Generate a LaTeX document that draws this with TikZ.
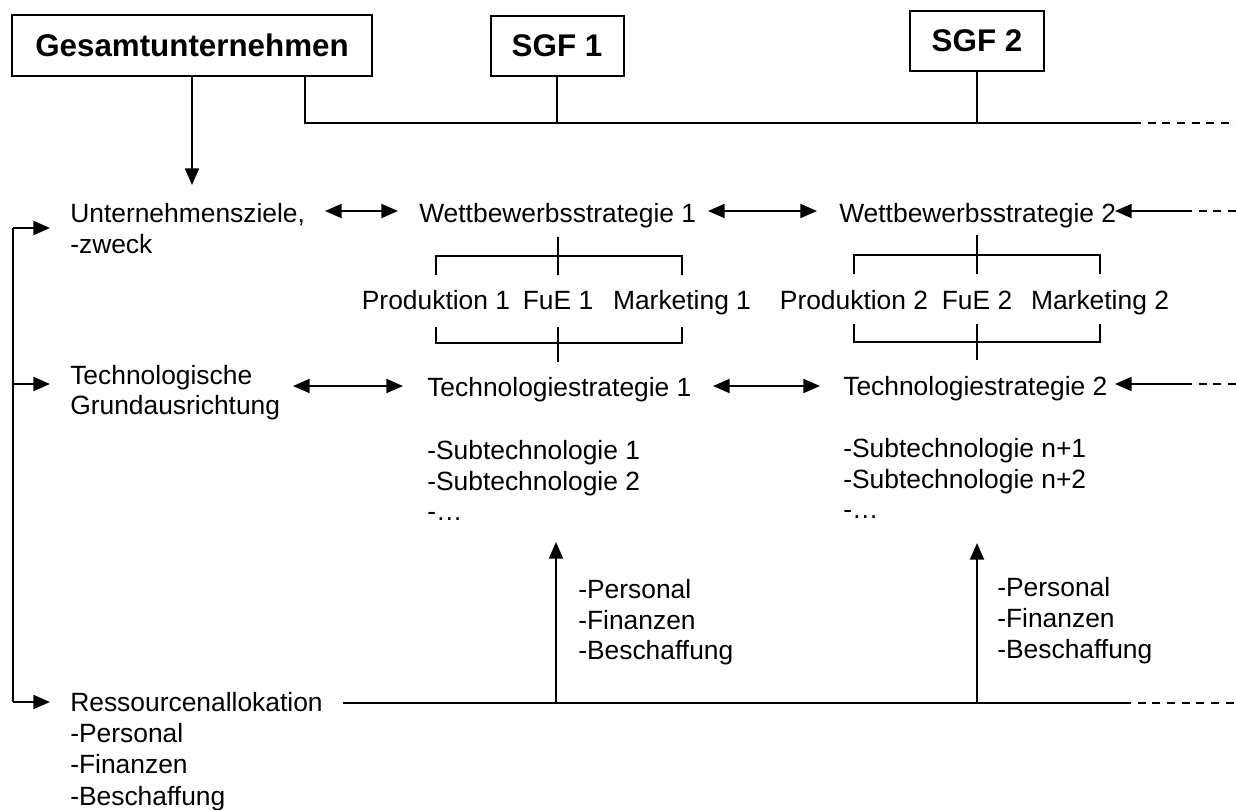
\documentclass[tikz,border=0pt]{standalone}
\usepackage{fontspec}
\setmainfont{Liberation Sans}
\usetikzlibrary{arrows.meta,calc}
\newcommand{\normtxt}{\fontsize{19.8}{23}\selectfont}
\newcommand{\boldtxt}{\fontsize{23.5}{28}\selectfont\bfseries}
\tikzset{
  txt/.style={font=\normtxt, inner sep=0pt, anchor=base west},
  ctxt/.style={font=\normtxt, inner sep=0pt, anchor=base},
  boxnode/.style={draw, line width=1.5pt, font=\boldtxt, inner sep=0pt},
  ln/.style={line width=1.5pt},
  tip/.tip={Triangle[length=12.5pt,width=10.5pt]},
  arr/.style={ln, -tip},
  darr/.style={ln, tip-tip},
  dsh/.style={line width=1.5pt, dash pattern=on 6pt off 5pt}
}
\begin{document}
\begin{tikzpicture}[x=0.75pt,y=-0.75pt]
\useasboundingbox (0,0) rectangle (1236,810);

% header boxes
\node[boxnode, minimum width=360*0.75pt, minimum height=61*0.75pt] (ges) at (192,45.5) {Gesamtunternehmen};
\node[boxnode, minimum width=133*0.75pt, minimum height=60*0.75pt] (sgf1) at (557,46) {SGF 1};
\node[boxnode, minimum width=134*0.75pt, minimum height=60*0.75pt] (sgf2) at (977,41) {SGF 2};

% top connection line
\coordinate (gr) at (305,76);
\coordinate (tA) at (305,123);
\coordinate (tB) at (1133,123);
\coordinate (tC) at (1236,123);
\draw[line width=2pt] (gr) -- (tA) -- (sgf1.south |- tA);
\draw[ln] (sgf1.south |- tA) -- (tB);
\draw[ln] (sgf1.south) -- (sgf1.south |- tA);
\draw[ln] (sgf2.south) -- (sgf2.south |- tA);
\draw[dsh] (tB) -- (tC);

% arrow from the company box down to the goals
\coordinate (gtip) at (192,185);
\draw[arr] (ges.south) -- (gtip);

% row 1: goals and competitive strategies
\node[txt] (uz1) at (70,222) {Unternehmensziele,};
\node[txt] (uz2) at (70,253) {-zweck};
\node[txt] (ws1) at (419,222) {Wettbewerbsstrategie 1};
\node[txt] (ws2) at (839,222) {Wettbewerbsstrategie 2};
\coordinate (a1l) at (325,211); \coordinate (a1r) at (398,211);
\coordinate (a2l) at (708,211); \coordinate (a2r) at (817,211);
\coordinate (a3s) at (1187,211); \coordinate (a3t) at (1115,211); \coordinate (a3e) at (1236,211);
\draw[darr] (a1l) -- (a1r);
\draw[darr] (a2l) -- (a2r);
\draw[arr] (a3s) -- (a3t);
\draw[dsh] (a3e) -- (a3s);

% functional areas
\node[ctxt] (p1) at (436,309) {Produktion 1};
\node[ctxt] (f1) at (558,309) {FuE 1};
\node[ctxt] (m1) at (682,309) {Marketing 1};
\node[ctxt] (p2) at (854,309) {Produktion 2};
\node[ctxt] (f2) at (977,309) {FuE 2};
\node[ctxt] (m2) at (1100,309) {Marketing 2};

% brackets around functional areas
\draw[ln] (558,237) -- (558,256);
\draw[ln] (436,275) -- (436,256) -- (682,256) -- (682,275);
\draw[ln] (558,256) -- (558,275);
\draw[ln] (436,327) -- (436,343) -- (682,343) -- (682,327);
\draw[ln] (558,327) -- (558,362);

\draw[ln] (977,235) -- (977,255);
\draw[ln] (854,274) -- (854,255) -- (1100,255) -- (1100,274);
\draw[ln] (977,255) -- (977,274);
\draw[ln] (854,324) -- (854,342) -- (1100,342) -- (1100,324);
\draw[ln] (977,324) -- (977,360);

% row 2: technology
\node[txt] (tg1) at (70,384) {Technologische};
\node[txt] (tg2) at (70,414) {Grundausrichtung};
\node[txt] (ts1) at (427,396) {Technologiestrategie 1};
\node[txt] (ts2) at (843,395) {Technologiestrategie 2};
\coordinate (b1l) at (293,386); \coordinate (b1r) at (403,386);
\coordinate (b2l) at (713,386); \coordinate (b2r) at (820,386);
\coordinate (b3s) at (1187,384); \coordinate (b3t) at (1115,384); \coordinate (b3e) at (1236,384);
\draw[darr] (b1l) -- (b1r);
\draw[darr] (b2l) -- (b2r);
\draw[arr] (b3s) -- (b3t);
\draw[dsh] (b3e) -- (b3s);

% sub-technologies
\node[txt] (s11) at (427,459) {-Subtechnologie 1};
\node[txt] (s12) at (427,490) {-Subtechnologie 2};
\node[txt] (s13) at (427,520) {-…};
\node[txt] (s21) at (843,457) {-Subtechnologie n+1};
\node[txt] (s22) at (843,488) {-Subtechnologie n+2};
\node[txt] (s23) at (843,518) {-…};

% resource flows
\coordinate (rb) at (343,703);
\coordinate (rs) at (1123,703);
\coordinate (re) at (1236,703);
\coordinate (v1b) at (556,703); \coordinate (v1t) at (556,542);
\coordinate (v2b) at (977,703); \coordinate (v2t) at (977,543);
\draw[ln] (rb) -- (rs);
\draw[dsh] (rs) -- (re);
\draw[arr] (v1b) -- (v1t);
\draw[arr] (v2b) -- (v2t);
\node[txt] (rp1) at (578,598) {-Personal};
\node[txt] (rf1) at (578,629) {-Finanzen};
\node[txt] (rc1) at (578,659) {-Beschaffung};
\node[txt] (rp2) at (997,596) {-Personal};
\node[txt] (rf2) at (997,627) {-Finanzen};
\node[txt] (rc2) at (997,658) {-Beschaffung};

% resource allocation
\node[txt] (ra) at (70,711) {Ressourcenallokation};
\node[txt] (ra1) at (70,742) {-Personal};
\node[txt] (ra2) at (70,773) {-Finanzen};
\node[txt] (ra3) at (70,805) {-Beschaffung};

% left feedback line
\coordinate (L1) at (13,228); \coordinate (L1t) at (50,228);
\coordinate (L2) at (13,384); \coordinate (L2t) at (50,384);
\coordinate (L3) at (13,702); \coordinate (L3t) at (50,702);
\draw[ln] (L1) -- (L3);
\draw[arr] (L1) -- (L1t);
\draw[arr] (L2) -- (L2t);
\draw[arr] (L3) -- (L3t);
\end{tikzpicture}
\end{document}
